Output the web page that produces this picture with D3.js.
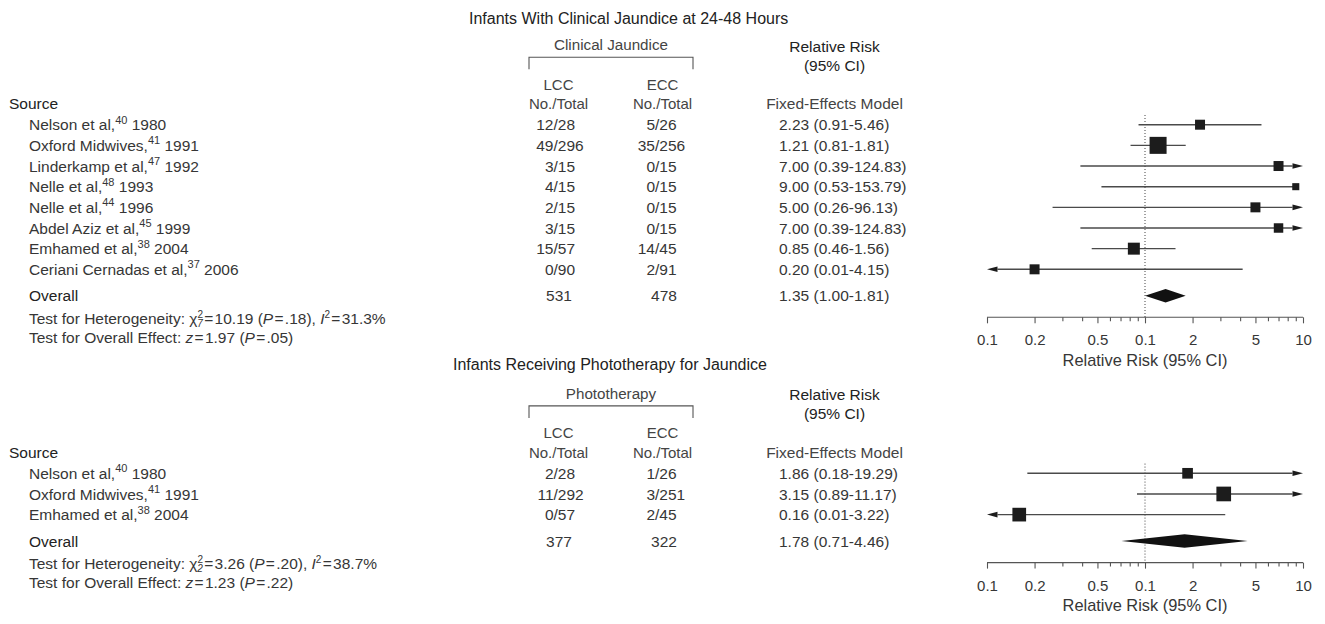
<!DOCTYPE html>
<html><head><meta charset="utf-8">
<script src="https://cdn.jsdelivr.net/npm/d3@7"></script>
<style>
body{margin:0;background:#fff}
svg{display:block}
text{font-family:"Liberation Sans",Arial,Helvetica,sans-serif}
</style>
</head><body>
<svg id="chart" width="1325" height="624"></svg>
<script>
// ---------------- DATA ----------------
const panelTitles = ["Infants With Clinical Jaundice at 24-48 Hours", "Infants Receiving Phototherapy for Jaundice"];
const groupLabels = ["Clinical Jaundice", "Phototherapy"];
const armLabels = ["LCC", "ECC"];
const tickValues = [0.1, 0.2, 0.5, 1, 2, 5, 10];
const tickLabels = ["0.1", "0.2", "0.5", "0.1", "2", "5", "10"];
const minorTickValues = [0.3, 0.4, 0.6, 0.7, 0.8, 0.9, 3, 4, 6, 7, 8, 9];

// Panel 1: clinical jaundice
const p1Authors = ["Nelson et al,", "Oxford Midwives,", "Linderkamp et al,", "Nelle et al,", "Nelle et al,", "Abdel Aziz et al,", "Emhamed et al,", "Ceriani Cernadas et al,"];
const p1Refs = ["40", "41", "47", "48", "44", "45", "38", "37"];
const p1Years = ["1980", "1991", "1992", "1993", "1996", "1999", "2004", "2006"];
const p1LccEvents = [12, 49, 3, 4, 2, 3, 15, 0];
const p1LccTotals = [28, 296, 15, 15, 15, 15, 57, 90];
const p1EccEvents = [5, 35, 0, 0, 0, 0, 14, 2];
const p1EccTotals = [26, 256, 15, 15, 15, 15, 45, 91];
const p1RR = [2.23, 1.21, 7.00, 9.00, 5.00, 7.00, 0.85, 0.20];
const p1Lo = [0.91, 0.81, 0.39, 0.53, 0.26, 0.39, 0.46, 0.01];
const p1Hi = [5.46, 1.81, 124.83, 153.79, 96.13, 124.83, 1.56, 4.15];
const p1Weights = [10, 29, 10, 5, 10, 9, 14.4, 10];
const p1OverallTotals = [531, 478];
const p1Overall = [1.35, 1.00, 1.81];
const p1Het = {chi: "10.19", df: "7", p: ".18", i2: "31.3%"};
const p1Effect = {z: "1.97", p: ".05"};

// Panel 2: phototherapy
const p2Authors = ["Nelson et al,", "Oxford Midwives,", "Emhamed et al,"];
const p2Refs = ["40", "41", "38"];
const p2Years = ["1980", "1991", "2004"];
const p2LccEvents = [2, 11, 0];
const p2LccTotals = [28, 292, 57];
const p2EccEvents = [1, 3, 2];
const p2EccTotals = [26, 251, 45];
const p2RR = [1.86, 3.15, 0.16];
const p2Lo = [0.18, 0.89, 0.01];
const p2Hi = [19.29, 11.17, 3.22];
const p2Weights = [11.4, 21.6, 18.8];
const p2OverallTotals = [377, 322];
const p2Overall = [1.78, 0.71, 4.46];
const p2Het = {chi: "3.26", df: "2", p: ".20", i2: "38.7%"};
const p2Effect = {z: "1.23", p: ".22"};

// ---------------- LAYOUT ----------------
const L = {
  titleX: [469, 453], titleY: [23.5, 370],
  groupX: 611, groupY: 50, bracketL: 529, bracketR: 693, bracketTop: 57.3, bracketBot: 69.3,
  rrX: 834.5, rrY1: 51.5, rrY2: 70.5,
  lccX: 558.5, eccX: 662.5, armY: 89.5, subY: 109,
  sourceX: 9, indentX: 29,
  slashL: 553.5, slashE: 655,
  totalL: 559, totalE: 664,
  rrTextX: 779,
  firstRow: 124.7, rowStep: 20.66, overallGap: 26.4,
  axisGap: 21.6, hetGap: 22.6, effGap: 41.8,
  xLeft: 987, xRight: 1303
};
const panelOffsets = [0, 348.6];
const FS = 15.5, SUP = 11, EQ = 1.3;

const svg = d3.select("#chart");
const fmt = d3.format(".2f");
const txtCol = "#363636", headCol = "#222", markCol = "#1c1c1c", lineCol = "#4a4a4a";

const x = d3.scaleLog().domain([0.1, 10]).range([L.xLeft, L.xRight]);

// helper: "= value" with small gaps around the equals sign
function eq(t, rest) {
  t.append("tspan").attr("dx", EQ).text("=");
  t.append("tspan").attr("dx", EQ).text(rest);
}

function drawPanel(k, d) {
  const off = panelOffsets[k];
  const g = svg.append("g").attr("transform", `translate(0,${off})`);
  const n = d.authors.length;
  const y = d3.scaleLinear().domain([0, 1]).range([L.firstRow, L.firstRow + L.rowStep]);
  const overallY = y(n - 1) + L.overallGap;
  const axisY = overallY + L.axisGap;

  // titles
  svg.append("text").attr("x", L.titleX[k]).attr("y", L.titleY[k])
    .attr("font-size", 16).attr("fill", headCol).text(panelTitles[k]);
  g.append("text").attr("x", L.groupX).attr("y", L.groupY).attr("text-anchor", "middle")
    .attr("font-size", 15.2).attr("fill", "#444").text(groupLabels[k]);
  g.append("path")
    .attr("d", `M${L.bracketL},${L.bracketBot}V${L.bracketTop}H${L.bracketR}V${L.bracketBot}`)
    .attr("fill", "none").attr("stroke", "#555").attr("stroke-width", 1.1);
  g.append("text").attr("x", L.rrX).attr("y", L.rrY1).attr("text-anchor", "middle")
    .attr("font-size", FS).attr("fill", headCol).text("Relative Risk");
  g.append("text").attr("x", L.rrX).attr("y", L.rrY2).attr("text-anchor", "middle")
    .attr("font-size", FS).attr("fill", headCol).text("(95% CI)");
  [L.lccX, L.eccX].forEach((cx, i) => {
    g.append("text").attr("x", cx).attr("y", L.armY).attr("text-anchor", "middle")
      .attr("font-size", 15).attr("fill", "#444").text(armLabels[i]);
    g.append("text").attr("x", cx).attr("y", L.subY).attr("text-anchor", "middle")
      .attr("font-size", 15).attr("fill", "#444").text("No./Total");
  });
  g.append("text").attr("x", L.rrX).attr("y", L.subY).attr("text-anchor", "middle")
    .attr("font-size", FS).attr("fill", "#444").text("Fixed-Effects Model");
  g.append("text").attr("x", L.sourceX).attr("y", L.subY)
    .attr("font-size", FS).attr("fill", headCol).text("Source");

  // rows
  d.authors.forEach((a, i) => {
    const by = y(i) + 5.6;
    const t = g.append("text").attr("x", L.indentX).attr("y", by).attr("font-size", FS).attr("fill", txtCol);
    t.append("tspan").text(a);
    t.append("tspan").attr("font-size", SUP).attr("dy", -6.5).text(d.refs[i]);
    t.append("tspan").attr("dy", 6.5).text(" " + d.years[i]);
    [[L.slashL, d.lccE[i], d.lccT[i]], [L.slashE, d.eccE[i], d.eccT[i]]].forEach(([sx, e, tot]) => {
      g.append("text").attr("x", sx).attr("y", by).attr("text-anchor", "end")
        .attr("font-size", FS).attr("fill", txtCol).text(e);
      g.append("text").attr("x", sx).attr("y", by).attr("text-anchor", "start")
        .attr("font-size", FS).attr("fill", txtCol).text("/" + tot);
    });
    g.append("text").attr("x", L.rrTextX).attr("y", by).attr("font-size", FS).attr("fill", txtCol)
      .text(`${fmt(d.rr[i])} (${fmt(d.lo[i])}-${fmt(d.hi[i])})`);
  });

  // overall row
  const oy = overallY + 5.6;
  g.append("text").attr("x", L.indentX).attr("y", oy).attr("font-size", FS).attr("fill", headCol).text("Overall");
  g.append("text").attr("x", L.totalL).attr("y", oy).attr("text-anchor", "middle").attr("font-size", FS).attr("fill", txtCol).text(d.totals[0]);
  g.append("text").attr("x", L.totalE).attr("y", oy).attr("text-anchor", "middle").attr("font-size", FS).attr("fill", txtCol).text(d.totals[1]);
  g.append("text").attr("x", L.rrTextX).attr("y", oy).attr("font-size", FS).attr("fill", txtCol)
    .text(`${fmt(d.overall[0])} (${fmt(d.overall[1])}-${fmt(d.overall[2])})`);

  // heterogeneity line
  const th = g.append("text").attr("x", L.indentX).attr("y", overallY + L.hetGap + 5.6).attr("font-size", FS).attr("fill", txtCol);
  th.append("tspan").text("Test for Heterogeneity: ");
  th.append("tspan").text("\u03C7");
  th.append("tspan").attr("font-size", 10).attr("dy", -6).text("2");
  th.append("tspan").attr("font-size", 10).attr("font-style", "italic").attr("dx", -5.6).attr("dy", 9).text(d.het.df);
  th.append("tspan").attr("dy", -3).attr("dx", EQ).text("=");
  th.append("tspan").attr("dx", EQ).text(d.het.chi + " (");
  th.append("tspan").attr("font-style", "italic").text("P");
  eq(th, d.het.p + "), ");
  th.append("tspan").attr("font-style", "italic").text("I");
  th.append("tspan").attr("font-size", 10).attr("dy", -6).text("2");
  th.append("tspan").attr("dy", 6).attr("dx", EQ).text("=");
  th.append("tspan").attr("dx", EQ).text(d.het.i2);

  const te = g.append("text").attr("x", L.indentX).attr("y", overallY + L.effGap + 5.6).attr("font-size", FS).attr("fill", txtCol);
  te.append("tspan").text("Test for Overall Effect: ");
  te.append("tspan").attr("font-style", "italic").text("z");
  eq(te, d.effect.z + " (");
  te.append("tspan").attr("font-style", "italic").text("P");
  eq(te, d.effect.p + ")");

  // reference line at 1
  g.append("line").attr("x1", x(1)).attr("x2", x(1))
    .attr("y1", L.firstRow - 9.7).attr("y2", axisY)
    .attr("stroke", "#444").attr("stroke-width", 1).attr("stroke-dasharray", "1,2");

  // CI lines & squares
  const size = d3.scaleSqrt().domain([0, 29]).range([0, 17]);
  const arrowLen = 10.5, arrowH = 2.8;
  d.rr.forEach((r, i) => {
    const cy = y(i);
    const s = size(d.weights[i]);
    const cx = x(r);
    let x1 = x(Math.max(d.lo[i], 0.1)), x2 = x(Math.min(d.hi[i], 10));
    const rightArrow = d.hi[i] > 10 && cx + s / 2 < x(10) - arrowLen;
    const leftArrow = d.lo[i] < 0.1 && cx - s / 2 > x(0.1) + arrowLen;
    if (d.hi[i] > 10) x2 = rightArrow ? x(10) - arrowLen : cx;
    if (d.lo[i] < 0.1) x1 = leftArrow ? x(0.1) + arrowLen : cx;
    g.append("line").attr("x1", x1).attr("x2", x2).attr("y1", cy).attr("y2", cy)
      .attr("stroke", lineCol).attr("stroke-width", 1.4);
    if (rightArrow) {
      g.append("path").attr("d", `M${x(10)},${cy}L${x(10) - arrowLen},${cy - arrowH}L${x(10) - arrowLen},${cy + arrowH}Z`).attr("fill", markCol);
    }
    if (leftArrow) {
      g.append("path").attr("d", `M${x(0.1)},${cy}L${x(0.1) + arrowLen},${cy - arrowH}L${x(0.1) + arrowLen},${cy + arrowH}Z`).attr("fill", markCol);
    }
    g.append("rect").attr("x", cx - s / 2).attr("y", cy - s / 2).attr("width", s).attr("height", s).attr("fill", markCol);
  });

  // diamond
  const dh = 6.8;
  g.append("path")
    .attr("d", `M${x(d.overall[1])},${overallY}L${x(d.overall[0])},${overallY - dh}L${x(d.overall[2])},${overallY}L${x(d.overall[0])},${overallY + dh}Z`)
    .attr("fill", "#111");

  // axis
  const ax = g.append("g").attr("transform", `translate(0,${axisY})`);
  ax.append("line").attr("x1", x(0.1)).attr("x2", x(10)).attr("stroke", "#555").attr("stroke-width", 1.1);
  const axis = d3.axisBottom(x).tickValues(tickValues).tickSize(6).tickPadding(11.3)
    .tickFormat((v, i) => tickLabels[i]);
  const axG = ax.append("g").call(axis);
  axG.attr("font-size", 15).attr("font-family", "'Liberation Sans',Arial,sans-serif");
  axG.select(".domain").remove();
  axG.selectAll(".tick line").attr("stroke", "#555").attr("stroke-width", 1.1);
  axG.selectAll(".tick text").attr("font-size", 15).attr("fill", txtCol);
  const minor = d3.axisBottom(x).tickValues(minorTickValues).tickSize(4).tickFormat("");
  const mG = ax.append("g").call(minor);
  mG.select(".domain").remove();
  mG.selectAll(".tick line").attr("stroke", "#555").attr("stroke-width", 1.1);
  g.append("text").attr("x", x(1)).attr("y", axisY + 48.4).attr("text-anchor", "middle")
    .attr("font-size", 16.4).attr("fill", txtCol).text("Relative Risk (95% CI)");
}

drawPanel(0, {authors: p1Authors, refs: p1Refs, years: p1Years, lccE: p1LccEvents, lccT: p1LccTotals,
  eccE: p1EccEvents, eccT: p1EccTotals, rr: p1RR, lo: p1Lo, hi: p1Hi, weights: p1Weights,
  totals: p1OverallTotals, overall: p1Overall, het: p1Het, effect: p1Effect});
drawPanel(1, {authors: p2Authors, refs: p2Refs, years: p2Years, lccE: p2LccEvents, lccT: p2LccTotals,
  eccE: p2EccEvents, eccT: p2EccTotals, rr: p2RR, lo: p2Lo, hi: p2Hi, weights: p2Weights,
  totals: p2OverallTotals, overall: p2Overall, het: p2Het, effect: p2Effect});
</script>
</body></html>
